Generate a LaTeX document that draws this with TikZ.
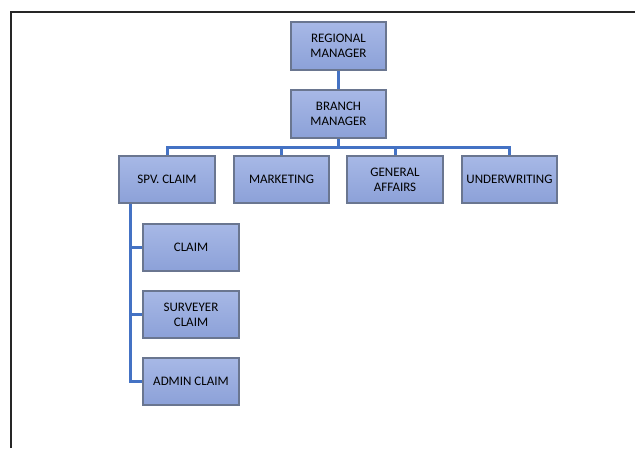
\documentclass[tikz,border=0pt]{standalone}
\usepackage{fontspec}
\setmainfont{Carlito}
\definecolor{boxtop}{HTML}{A7B8E6}
\definecolor{boxbot}{HTML}{8CA1D8}
\definecolor{boxline}{HTML}{6A7690}
\definecolor{linkblue}{HTML}{4472C4}
\tikzset{
  unitbox/.style={draw=boxline, line width=1.2pt, top color=boxtop, bottom color=boxbot,
    minimum width=95pt, minimum height=47pt, align=center, inner sep=1pt,
    font=\fontsize{13}{15}\selectfont},
  link/.style={linkblue, line width=3pt}
}
\begin{document}
\begin{tikzpicture}[x=1pt, y=-1pt]
                \useasboundingbox (0,0) rectangle (635,448);
                % Frame
                \draw[line width=2pt, black!85] (11,448) -- (11,12) -- (635,12);

                % Top
                \node[unitbox] (rm) at (338.5,46) {REGIONAL\\MANAGER};
                \node[unitbox] (bm) at (338.5,114) {BRANCH\\MANAGER};

                % Departments
                \node[unitbox] (spv) at (167,179.5) {SPV. CLAIM};
                \node[unitbox] (mkt) at (281.5,179.5) {MARKETING};
                \node[unitbox] (ga) at (395,179.5) {GENERAL\\AFFAIRS};
                \node[unitbox] (uw) at (509.5,179.5) {UNDERWRITING};

                % Claim section
                \node[unitbox] (claim) at (191,247.5) {CLAIM};
                \node[unitbox] (surv) at (191,314.5) {SURVEYER\\CLAIM};
                \node[unitbox] (adm) at (191,381.5) {ADMIN CLAIM};

                % Links
                \coordinate (bus) at (338.5,147);
                \coordinate (trunk) at (130,203);
                \draw[link] (rm) -- (bm);
                \draw[link] (bm) -- (bus);
                \draw[link] (bus) -| (spv);
                \draw[link] (bus) -| (mkt);
                \draw[link] (bus) -| (ga);
                \draw[link] (bus) -| (uw);
                \draw[link] (trunk) |- (claim);
                \draw[link] (trunk) |- (surv);
                \draw[link] (trunk) |- (adm);

                % Boxes over links
                \foreach \n in {rm,bm,spv,mkt,ga,uw,claim,surv,adm}
                  \draw[boxline, line width=1.2pt] (\n.south west) rectangle (\n.north east);
            \end{tikzpicture}
\end{document}
